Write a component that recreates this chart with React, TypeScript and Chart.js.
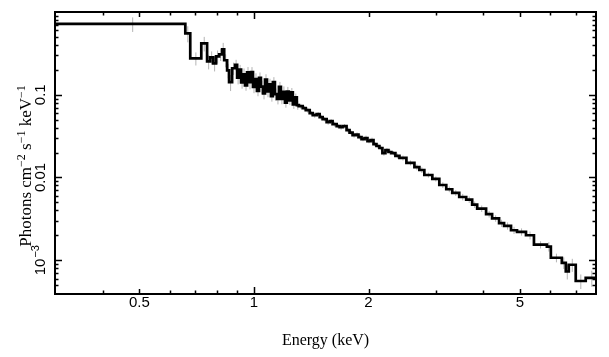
import React, { useEffect, useRef } from "react";
import { Chart, registerables } from "chart.js";
Chart.register(...registerables);

// Energy bin edges (keV)
const binEdges = [
  0.30, 0.66, 0.68, 0.727, 0.753, 0.767, 0.781, 0.795, 0.810, 0.825, 0.835, 0.850, 0.860, 0.876, 0.892,
  0.903, 0.914, 0.925, 0.936, 0.947, 0.959, 0.970, 0.982, 0.994, 1.006, 1.018, 1.031, 1.043, 1.056, 1.069,
  1.082, 1.095, 1.108, 1.121, 1.135, 1.149, 1.163, 1.177, 1.191, 1.206, 1.220, 1.235, 1.250, 1.265, 1.280,
  1.296, 1.311,
  1.343, 1.368, 1.401, 1.427, 1.461, 1.488, 1.515, 1.552, 1.581, 1.609, 1.649, 1.679, 1.709, 1.751, 1.783,
  1.816, 1.849, 1.882, 1.917, 1.952, 1.987, 2.024, 2.061, 2.098, 2.136, 2.175, 2.215, 2.256, 2.297, 2.353,
  2.411,
  2.515, 2.640, 2.720, 2.803, 2.942, 3.069, 3.201, 3.319, 3.462, 3.611, 3.744, 3.859, 4.073, 4.224, 4.406,
  4.541, 4.736, 4.911, 5.185, 5.441, 5.884, 6.027, 6.440, 6.597, 6.717, 7.006, 7.442, 8.0,
];

// Photons cm^-2 s^-1 keV^-1 per bin
const flux = [
  0.717, 0.551, 0.275, 0.417, 0.253, 0.283, 0.239, 0.290, 0.308, 0.353, 0.261, 0.197, 0.142, 0.209,
  0.2298, 0.1607, 0.2012, 0.1406, 0.1761, 0.1298, 0.1866, 0.1418, 0.1877, 0.1242, 0.1550, 0.1114, 0.1603,
  0.1252, 0.1034, 0.1524, 0.1096, 0.1334, 0.0959, 0.1418, 0.1017, 0.0888, 0.1242, 0.0892, 0.1087, 0.0801,
  0.1090, 0.0851, 0.1066, 0.0766, 0.0930, 0.0747,
  0.0727, 0.0688, 0.0651, 0.0598, 0.0566, 0.0582, 0.0536, 0.0507, 0.0466, 0.0479, 0.0441, 0.0417, 0.0406,
  0.0417, 0.0374, 0.0348, 0.0325, 0.0330, 0.0308, 0.0291, 0.0299, 0.0275, 0.0283, 0.0253, 0.0240, 0.0227,
  0.0197, 0.0214, 0.0203, 0.0197, 0.0182,
  0.0172, 0.0150, 0.0133, 0.0123, 0.0107, 0.0096, 0.0081, 0.0072, 0.0065, 0.0058, 0.0054, 0.0047, 0.0042,
  0.0036, 0.0032, 0.0028, 0.0026, 0.0023, 0.0022, 0.0020, 0.00154, 0.00146, 0.00107, 0.00093, 0.00073,
  0.00088, 0.00056, 0.00061,
];

// Relative 1-sigma errors per bin
const relErr = [
  0.20, 0.22, 0.18, 0.20, 0.20, 0.18, 0.20, 0.18, 0.17, 0.20, 0.18, 0.20, 0.22, 0.17,
  0.15, 0.17, 0.14, 0.16, 0.18, 0.14, 0.16, 0.18, 0.15, 0.16, 0.17, 0.14, 0.16, 0.18, 0.15, 0.16,
  0.15, 0.17, 0.14, 0.15, 0.17, 0.14, 0.15, 0.14, 0.16, 0.13, 0.14, 0.12, 0.13, 0.12, 0.11, 0.12,
  0.07, 0.06, 0.07, 0.06, 0.07, 0.06, 0.07, 0.06, 0.07, 0.06, 0.07, 0.06, 0.07, 0.06, 0.07, 0.06,
  0.07, 0.06, 0.07, 0.06, 0.07, 0.06, 0.07, 0.06, 0.07, 0.06, 0.07, 0.06, 0.07, 0.06, 0.07,
  0.07, 0.07, 0.08, 0.08, 0.07, 0.07, 0.08, 0.08, 0.08, 0.09, 0.09, 0.09, 0.09, 0.09, 0.09,
  0.10, 0.10, 0.10, 0.10, 0.11, 0.10, 0.13, 0.12, 0.16, 0.20, 0.18, 0.20, 0.22,
];

const xTickValues = [0.5, 1, 2, 5];
const xTickLabels = ["0.5", "1", "2", "5"];
const xMinorValues = [0.4, 0.6, 0.7, 0.8, 0.9, 3, 4, 6, 7];
const yTickValues = [0.1, 0.01, 0.001];
const yTickLabels: [string, string][] = [["0.1", ""], ["0.01", ""], ["10", "\u22123"]];
const yMinorValues = [
  0.0005, 0.0006, 0.0007, 0.0008, 0.0009,
  0.002, 0.003, 0.004, 0.005, 0.006, 0.007, 0.008, 0.009,
  0.02, 0.03, 0.04, 0.05, 0.06, 0.07, 0.08, 0.09,
  0.2, 0.3, 0.4, 0.5, 0.6, 0.7, 0.8, 0.9,
];
const xTitle = "Energy (keV)";
const yTitleParts: [string, boolean][] = [
  ["Photons cm", false], ["\u22122", true], [" s", false], ["\u22121", true], [" keV", false], ["\u22121", true],
];

const SANS = '"Liberation Sans", Arial, sans-serif';
const SERIF = '"Liberation Serif", "Times New Roman", serif';

export default function App() {
  const ref = useRef<HTMLCanvasElement>(null);
  useEffect(() => {
    document.body.style.margin = "0";
    const n = Math.min(flux.length, binEdges.length - 1);
    const stepPts: { x: number; y: number }[] = [];
    const errPts: { x: number; y: number | null }[] = [];
    for (let i = 0; i < n; i++) {
      stepPts.push({ x: binEdges[i], y: flux[i] });
      stepPts.push({ x: binEdges[i + 1], y: flux[i] });
      const c = (binEdges[i] + binEdges[i + 1]) / 2;
      const e = flux[i] * (relErr[i] ?? 0.1);
      errPts.push({ x: c, y: flux[i] - e }, { x: c, y: flux[i] + e }, { x: c, y: null });
    }

    const axesPlugin = {
      id: "axesFrame",
      afterDraw(chart: any) {
        const ctx = chart.ctx as CanvasRenderingContext2D;
        const xs = chart.scales.x;
        const ys = chart.scales.y;
        const { left, right, top, bottom } = chart.chartArea;
        ctx.save();
        ctx.strokeStyle = "#000";
        ctx.lineWidth = 1.5;
        const vtick = (v: number, len: number) => {
          const p = Math.round(xs.getPixelForValue(v)) + 0.5;
          ctx.beginPath();
          ctx.moveTo(p, bottom);
          ctx.lineTo(p, bottom - len);
          ctx.moveTo(p, top);
          ctx.lineTo(p, top + len);
          ctx.stroke();
        };
        const htick = (v: number, len: number) => {
          const p = Math.round(ys.getPixelForValue(v)) + 0.5;
          ctx.beginPath();
          ctx.moveTo(left, p);
          ctx.lineTo(left + len, p);
          ctx.moveTo(right, p);
          ctx.lineTo(right - len, p);
          ctx.stroke();
        };
        xTickValues.forEach((v) => vtick(v, v === 1 ? 7 : 5));
        xMinorValues.forEach((v) => vtick(v, 3.5));
        yTickValues.forEach((v) => htick(v, 7));
        yMinorValues.forEach((v) => htick(v, 3.5));
        ctx.lineWidth = 2;
        ctx.strokeRect(left, top, right - left, bottom - top);

        ctx.fillStyle = "#000";
        // x tick labels
        ctx.font = `15px ${SANS}`;
        ctx.textAlign = "center";
        ctx.textBaseline = "alphabetic";
        xTickValues.forEach((v, i) => {
          ctx.fillText(xTickLabels[i], xs.getPixelForValue(v), 307);
        });
        // y tick labels (rotated)
        yTickValues.forEach((v, i) => {
          const [main, sup] = yTickLabels[i];
          ctx.save();
          ctx.translate(45, ys.getPixelForValue(v));
          ctx.rotate(-Math.PI / 2);
          ctx.font = `15px ${SANS}`;
          const wm = ctx.measureText(main).width;
          ctx.font = `11px ${SANS}`;
          const ws = sup ? ctx.measureText(sup).width + 1 : 0;
          const start = -(wm + ws) / 2;
          ctx.textAlign = "left";
          ctx.font = `15px ${SANS}`;
          ctx.fillText(main, start, 0);
          if (sup) {
            ctx.font = `11px ${SANS}`;
            ctx.fillText(sup, start + wm + 1, -6);
          }
          ctx.restore();
        });
        // x title
        ctx.font = `16px ${SERIF}`;
        ctx.textAlign = "center";
        ctx.fillText(xTitle, (left + right) / 2, 345);
        // y title (rotated, with superscripts)
        ctx.save();
        ctx.translate(31, 166);
        ctx.rotate(-Math.PI / 2);
        let total = 0;
        const widths = yTitleParts.map(([t, sup]) => {
          ctx.font = sup ? `12px ${SERIF}` : `17px ${SERIF}`;
          const w = ctx.measureText(t).width;
          total += w;
          return w;
        });
        let xPos = -total / 2;
        ctx.textAlign = "left";
        yTitleParts.forEach(([t, sup], i) => {
          ctx.font = sup ? `12px ${SERIF}` : `17px ${SERIF}`;
          ctx.fillText(t, xPos, sup ? -6 : 0);
          xPos += widths[i];
        });
        ctx.restore();
        ctx.restore();
      },
    };

    const chart = new Chart(ref.current!, {
      type: "line",
      data: {
        datasets: [
          {
            data: stepPts as any,
            borderColor: "#000",
            borderWidth: 2.7,
            pointRadius: 0,
            tension: 0,
            borderJoinStyle: "miter",
            fill: false,
          },
          {
            data: errPts as any,
            borderColor: "#b4b4b4",
            borderWidth: 1,
            pointRadius: 0,
            spanGaps: false,
            fill: false,
          },
        ],
      },
      options: {
        animation: false,
        responsive: true,
        maintainAspectRatio: false,
        events: [],
        layout: { padding: { left: 55, right: 13, top: 12, bottom: 63 } },
        plugins: { legend: { display: false }, tooltip: { enabled: false } },
        scales: {
          x: { type: "logarithmic", min: 0.3, max: 7.92, display: false },
          y: { type: "logarithmic", min: 0.00039, max: 1, display: false },
        },
      },
      plugins: [axesPlugin],
    });
    return () => chart.destroy();
  }, []);
  return (
    <div style={{ width: 609, height: 357, position: "relative" }}>
      <canvas ref={ref} />
    </div>
  );
}
